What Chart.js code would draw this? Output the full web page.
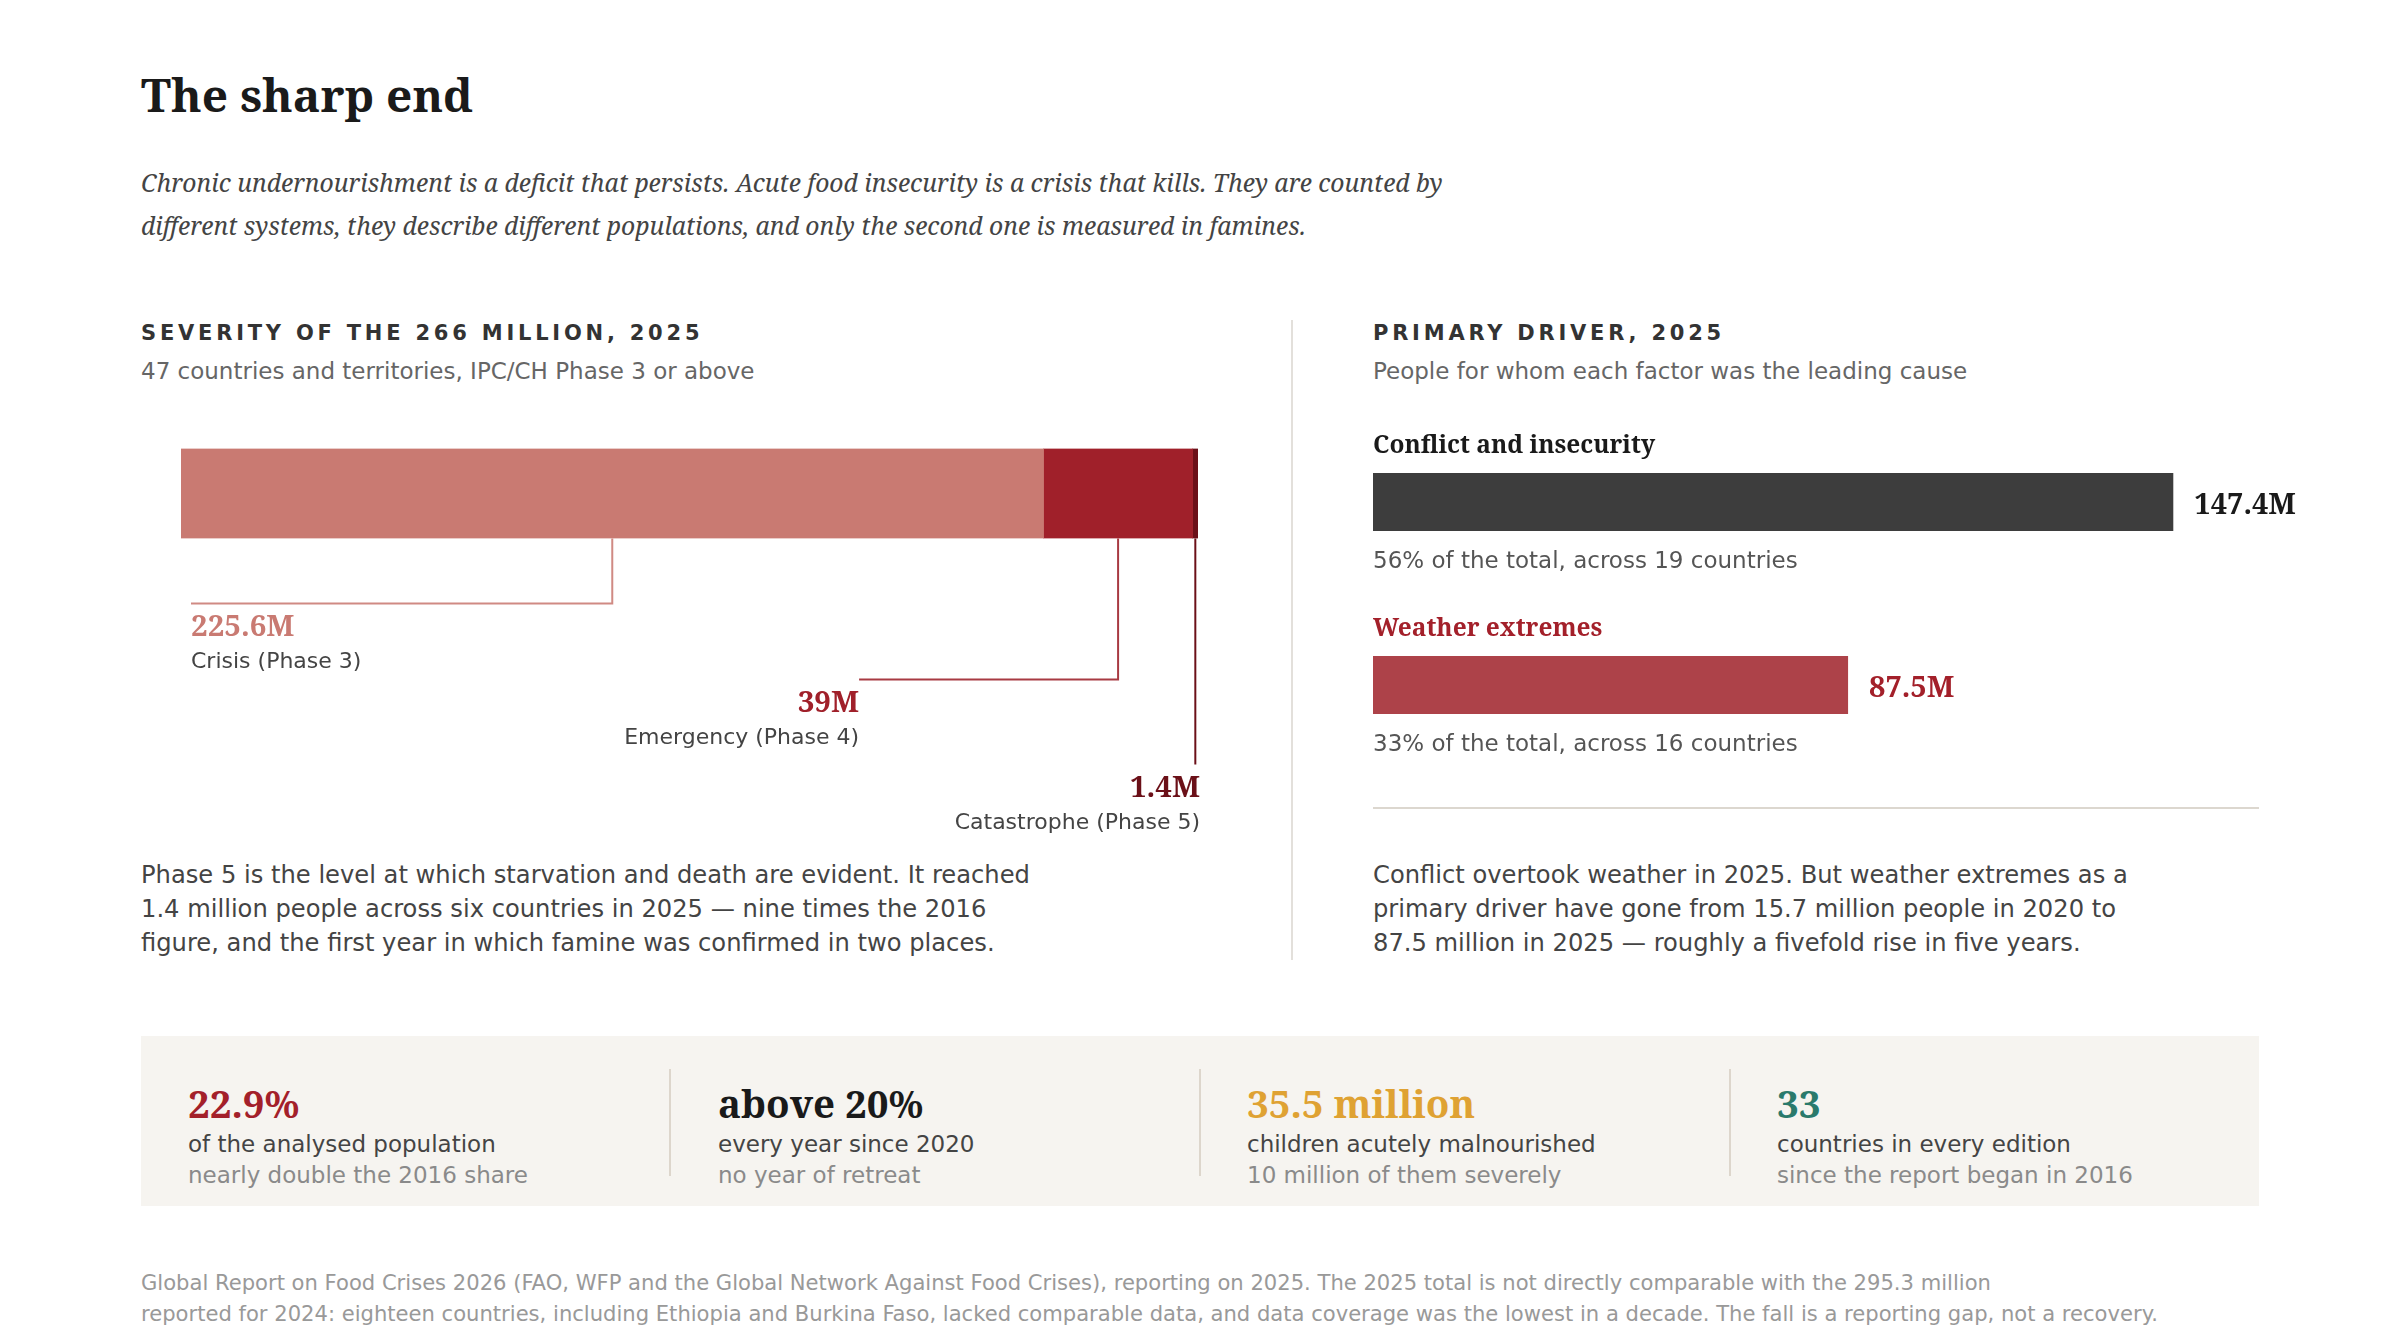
<!DOCTYPE html>
<html><head><meta charset="utf-8">
<script src="https://cdn.jsdelivr.net/npm/chart.js@4.4.1/dist/chart.umd.min.js"></script>
<style>
html,body{margin:0;padding:0;background:#fff;}
body{width:2400px;height:1340px;position:relative;overflow:hidden;font-family:"DejaVu Sans",sans-serif;}
.t{position:absolute;white-space:nowrap;margin:0;}
.serif{font-family:"Noto Serif","DejaVu Serif",serif;}
.title{left:141px;top:63.5px;font-size:46px;line-height:60px;font-weight:bold;color:#1a1a1a;}
.dek{left:141px;top:160.6px;font-size:24.7px;line-height:43px;font-style:italic;color:#444;}
.hd{top:317.5px;font-size:21px;line-height:30px;font-weight:bold;letter-spacing:0.18em;color:#333;}
.sub{top:355.5px;font-size:23px;line-height:30px;color:#666;}
.para{top:858px;font-size:24.2px;line-height:34px;color:#444;}
.vdiv{position:absolute;left:1291px;top:320px;width:2px;height:640px;background:#e3e0db;}
.hrule{position:absolute;left:1373px;top:806.5px;width:886px;height:2px;background:#dcd7cf;}
.panel{position:absolute;left:141px;top:1036px;width:2118px;height:170px;background:#f6f4f0;}
.sdiv{position:absolute;top:1069px;width:2px;height:107px;background:#ddd6cc;}
.big{top:1078px;font-size:38.5px;line-height:50px;font-weight:bold;}
.l2{top:1129px;font-size:23px;line-height:30px;color:#444;}
.l3{top:1160px;font-size:23px;line-height:30px;color:#8a8a8a;}
.foot{left:141px;top:1266.5px;font-size:21.1px;line-height:31px;color:#999;}
.chartbox{position:absolute;}
</style></head><body>

<div class="t serif title">The sharp end</div>
<div class="t serif dek">Chronic undernourishment is a deficit that persists. Acute food insecurity is a crisis that kills. They are counted by<br>different systems, they describe different populations, and only the second one is measured in famines.</div>

<div class="t hd" style="left:141px">SEVERITY OF THE 266 MILLION, 2025</div>
<div class="t sub" style="left:141px">47 countries and territories, IPC/CH Phase 3 or above</div>

<div class="t hd" style="left:1373px">PRIMARY DRIVER, 2025</div>
<div class="t sub" style="left:1373px">People for whom each factor was the leading cause</div>

<div class="vdiv"></div>

<div class="chartbox" style="left:141px;top:430px;width:1100px;height:420px"><canvas id="sev"></canvas></div>
<div class="chartbox" style="left:1373px;top:380px;width:960px;height:460px"><canvas id="drv"></canvas></div>

<div class="hrule"></div>

<div class="t para" style="left:141px">Phase 5 is the level at which starvation and death are evident. It reached<br>1.4 million people across six countries in 2025 — nine times the 2016<br>figure, and the first year in which famine was confirmed in two places.</div>
<div class="t para" style="left:1373px">Conflict overtook weather in 2025. But weather extremes as a<br>primary driver have gone from 15.7 million people in 2020 to<br>87.5 million in 2025 — roughly a fivefold rise in five years.</div>

<div class="panel"></div>
<div class="sdiv" style="left:669px"></div>
<div class="sdiv" style="left:1199px"></div>
<div class="sdiv" style="left:1729px"></div>

<div class="t serif big" style="left:188px;color:#a3202a">22.9%</div>
<div class="t l2" style="left:188px">of the analysed population</div>
<div class="t l3" style="left:188px">nearly double the 2016 share</div>

<div class="t serif big" style="left:718px;color:#1a1a1a">above 20%</div>
<div class="t l2" style="left:718px">every year since 2020</div>
<div class="t l3" style="left:718px">no year of retreat</div>

<div class="t serif big" style="left:1247px;color:#dfa233">35.5 million</div>
<div class="t l2" style="left:1247px">children acutely malnourished</div>
<div class="t l3" style="left:1247px">10 million of them severely</div>

<div class="t serif big" style="left:1777px;color:#2a7a6c">33</div>
<div class="t l2" style="left:1777px">countries in every edition</div>
<div class="t l3" style="left:1777px">since the report began in 2016</div>

<div class="t foot">Global Report on Food Crises 2026 (FAO, WFP and the Global Network Against Food Crises), reporting on 2025. The 2025 total is not directly comparable with the 295.3 million<br>reported for 2024: eighteen countries, including Ethiopia and Burkina Faso, lacked comparable data, and data coverage was the lowest in a decade. The fall is a reporting gap, not a recovery.</div>

<script>
// ---- data ----
const severityCategories = ['2025'];
const phaseNames = ['Crisis (Phase 3)', 'Emergency (Phase 4)', 'Catastrophe (Phase 5)'];
const phaseValues = [225.6, 39, 1.4];
const phaseValueLabels = ['225.6M', '39M', '1.4M'];

const driverNames = ['Conflict and insecurity', 'Weather extremes'];
const driverValues = [147.4, 87.5];
const driverValueLabels = ['147.4M', '87.5M'];
const driverNotes = ['56% of the total, across 19 countries', '33% of the total, across 16 countries'];

// ---- styling ----
const SERIF = '"Noto Serif","DejaVu Serif",serif';
const SANS = '"DejaVu Sans",sans-serif';
const phaseColors = ['#c97a72', '#a0202a', '#6b1018'];
const phaseLeaderColors = ['#d08a83', '#a83a42', '#6b1018'];
const phaseLabelColors = ['#c97a72', '#a0202a', '#6b1018'];
// drop: leader length below bar; elbow: 'toStart' | px leftwards | 0
const phaseLayout = [
  {drop: 65, elbow: 'toStart', align: 'left'},
  {drop: 141, elbow: 259, align: 'right'},
  {drop: 226, elbow: 0, align: 'right'}
];
const driverColors = ['#3d3d3d', '#ad4249'];
const driverTextColors = ['#1a1a1a', '#a3202a'];

Chart.defaults.animation = false;

const total = phaseValues.reduce((a, b) => a + b, 0);

const severityLabels = {
  id: 'severityLabels',
  afterDatasetsDraw(chart) {
    const ctx = chart.ctx;
    ctx.save();
    chart.data.datasets.forEach((ds, i) => {
      const el = chart.getDatasetMeta(i).data[0];
      const L = phaseLayout[i];
      const left = Math.min(el.x, el.base), right = Math.max(el.x, el.base);
      const mid = (left + right) / 2;
      const bottom = el.y + el.height / 2;
      const elbowY = bottom + L.drop;
      let endX = mid;
      if (L.elbow === 'toStart') endX = chart.scales.x.getPixelForValue(0) + 10;
      else if (L.elbow) endX = mid - L.elbow;
      ctx.strokeStyle = phaseLeaderColors[i];
      ctx.lineWidth = 2;
      ctx.beginPath();
      ctx.moveTo(mid, bottom);
      ctx.lineTo(mid, elbowY);
      if (endX !== mid) ctx.lineTo(endX, elbowY);
      ctx.stroke();
      const ax = L.elbow === 0 ? right + 2 : endX;
      ctx.textAlign = L.align;
      ctx.textBaseline = 'middle';
      ctx.fillStyle = phaseLabelColors[i];
      ctx.font = 'bold 29.5px ' + SERIF;
      ctx.fillText(phaseValueLabels[i], ax, elbowY + 24.5);
      ctx.fillStyle = '#444';
      ctx.font = '22px ' + SANS;
      ctx.fillText(phaseNames[i], ax, elbowY + 59);
    });
    ctx.restore();
  }
};

new Chart(document.getElementById('sev'), {
  type: 'bar',
  data: {
    labels: severityCategories,
    datasets: phaseValues.map((v, i) => ({
      label: phaseNames[i],
      data: [v],
      backgroundColor: phaseColors[i],
      borderWidth: 0,
      barPercentage: 1,
      categoryPercentage: 1
    }))
  },
  options: {
    indexAxis: 'y',
    responsive: true,
    maintainAspectRatio: false,
    layout: {padding: {left: 40, right: 43, top: 18.5, bottom: 311.5}},
    scales: {
      x: {stacked: true, min: 0, max: total, display: false, grid: {display: false}},
      y: {stacked: true, display: false, grid: {display: false}}
    },
    plugins: {legend: {display: false}, tooltip: {enabled: false}}
  },
  plugins: [severityLabels]
});

const driverLabelsPlugin = {
  id: 'driverLabels',
  afterDatasetsDraw(chart) {
    const ctx = chart.ctx;
    ctx.save();
    chart.getDatasetMeta(0).data.forEach((el, i) => {
      const left = Math.min(el.x, el.base), right = Math.max(el.x, el.base);
      ctx.textBaseline = 'middle';
      ctx.textAlign = 'left';
      ctx.fillStyle = driverTextColors[i];
      ctx.font = 'bold 24.5px ' + SERIF;
      ctx.fillText(driverNames[i], left, el.y - 56);
      ctx.font = 'bold 29px ' + SERIF;
      ctx.fillText(driverValueLabels[i], right + 21, el.y + 3.5);
      ctx.fillStyle = '#555';
      ctx.font = '23px ' + SANS;
      ctx.fillText(driverNotes[i], left, el.y + 60.5);
    });
    ctx.restore();
  }
};

new Chart(document.getElementById('drv'), {
  type: 'bar',
  data: {
    labels: driverNames,
    datasets: [{
      data: driverValues,
      backgroundColor: driverColors,
      borderWidth: 0,
      barPercentage: 0.317,
      categoryPercentage: 1
    }]
  },
  options: {
    indexAxis: 'y',
    responsive: true,
    maintainAspectRatio: false,
    layout: {padding: {left: 0, right: 75, top: 30.5, bottom: 63.5}},
    scales: {
      x: {min: 0, max: 163, display: false, grid: {display: false}},
      y: {display: false, grid: {display: false}}
    },
    plugins: {legend: {display: false}, tooltip: {enabled: false}}
  },
  plugins: [driverLabelsPlugin]
});
</script>
</body></html>
